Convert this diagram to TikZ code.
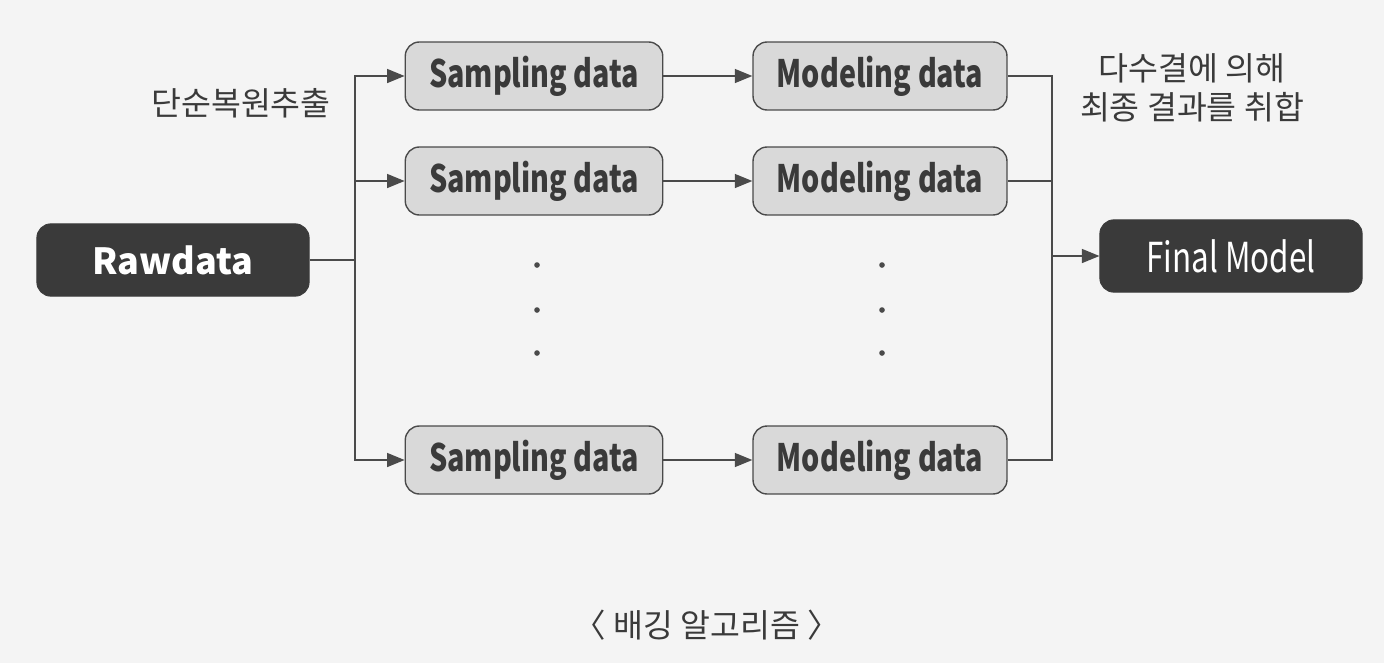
\documentclass[tikz,border=0pt]{standalone}
\usepackage{fontspec}
\setmainfont{Noto Sans CJK KR}
\newfontfamily\narrowfont[FakeStretch=0.76]{Noto Sans CJK KR}
\usetikzlibrary{arrows.meta}
\definecolor{rawgray}{HTML}{3A3A3A}
\definecolor{boxgray}{HTML}{D9D9D9}
\definecolor{linegray}{HTML}{4A4A4A}
\definecolor{paper}{HTML}{F4F4F4}

\begin{document}
\begin{tikzpicture}[x=0.02cm,y=-0.02cm,
  darkbox/.style={rounded corners=8pt,fill=rawgray,draw=rawgray,text=white,minimum height=1.45cm},
  lightbox/.style={rounded corners=8pt,fill=boxgray,draw=linegray,line width=0.8pt,text=rawgray,minimum width=5.15cm,minimum height=1.36cm,font=\narrowfont\bfseries\fontsize{21.5}{26}\selectfont},
  link/.style={draw=linegray,line width=0.8pt},
  tip/.style={-{Triangle[length=10pt,width=8pt]}}]
\fill[paper] (0,0) rectangle (1384,663);
\node[darkbox,minimum width=5.45cm,font=\bfseries\fontsize{20.5}{26}\selectfont] (raw) at (173,260) {Rawdata};
\node[darkbox,minimum width=5.25cm,font=\narrowfont\fontsize{23.5}{26}\selectfont] (final) at (1231,256) {Final Model};
\foreach \row/\ypos in {1/76,2/181,4/460}
{ \node[lightbox] (samp\row) at (534,\ypos) {Sampling data};
  \node[lightbox,minimum width=5.08cm] (model\row) at (880,\ypos) {Modeling data};}
\coordinate (split) at (355,260);
\coordinate (join) at (1052,256);
\draw[link] (raw) -- (split);
\foreach \row in {1,2,4}
{ \draw[link,tip] (split) |- (samp\row);
  \draw[link,tip] (samp\row) -- (model\row);
  \draw[link] (model\row) -| (join);}
\draw[link,tip] (join) -- (final);
\foreach \xpos in {537,882}
  \foreach \ypos in {265,310,353}
  {  \fill[linegray] (\xpos,\ypos) circle (1.6pt);}
\node[font=\fontsize{18.5}{22}\selectfont,text=rawgray] (pick) at (241,103) {단순복원추출};
\node[font=\fontsize{18.5}{22.5}\selectfont,text=rawgray,align=center] (vote) at (1192,88) {다수결에 의해\\최종 결과를 취합};
\node[font=\fontsize{18.5}{22}\selectfont,text=rawgray] (caption) at (707,625) {〈 배깅 알고리즘 〉};
\end{tikzpicture}
\end{document}
